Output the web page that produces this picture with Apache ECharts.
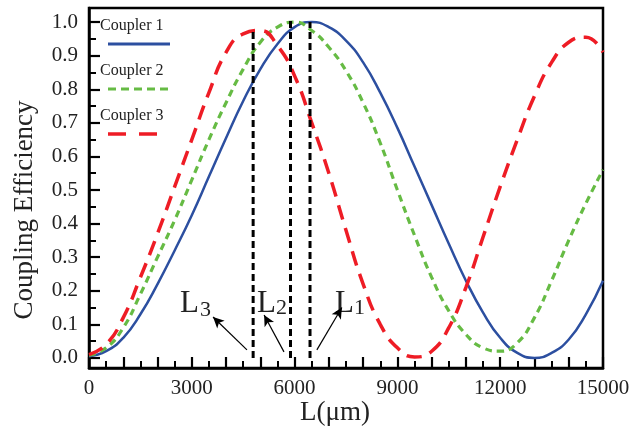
<!DOCTYPE html>
<html>
<head>
<meta charset="utf-8">
<script src="https://cdn.jsdelivr.net/npm/echarts@6/dist/echarts.min.js"></script>
<style>
  html, body { margin: 0; padding: 0; background: #fff; }
  #chart { width: 643px; height: 427px; }
</style>
</head>
<body>
<div id="chart"></div>
<script>
// L (µm) sample positions
const lengths = [0, 500, 1000, 1500, 2000, 2500, 3000, 3500, 4000, 4500, 5000, 5500, 6000, 6500, 7000, 7500,
    8000, 8500, 9000, 9500, 10000, 10500, 11000, 11500, 12000, 12500, 13000, 13500, 14000, 14500, 15000];

// coupling efficiency
const coupler1 = [0.005, 0.02, 0.06, 0.13, 0.22, 0.32, 0.425, 0.54, 0.655, 0.765, 0.86, 0.935, 0.985, 1.0, 0.985, 0.945,
    0.88, 0.79, 0.685, 0.57, 0.455, 0.34, 0.23, 0.135, 0.06, 0.015, 0.0, 0.015, 0.055, 0.13, 0.23];
const coupler2 = [0.008, 0.03, 0.09, 0.19, 0.30, 0.41, 0.53, 0.65, 0.76, 0.86, 0.94, 0.985, 1.0, 0.975, 0.925, 0.855,
    0.76, 0.64, 0.50, 0.365, 0.24, 0.14, 0.07, 0.03, 0.02, 0.045, 0.12, 0.23, 0.35, 0.46, 0.56];
const coupler3 = [0.01, 0.04, 0.12, 0.24, 0.37, 0.51, 0.65, 0.79, 0.91, 0.965, 0.975, 0.93, 0.84, 0.70, 0.55, 0.38,
    0.22, 0.10, 0.03, 0.003, 0.02, 0.09, 0.21, 0.36, 0.51, 0.65, 0.78, 0.88, 0.94, 0.955, 0.91];

// coupling lengths L1, L2, L3 and their peak heights
const peakNames = ['L1', 'L2', 'L3'];
const peakL = [6450, 5880, 4790];
const peakV = [1.0, 1.005, 0.98];

// arrows: [fromL, fromV, toL, toV]
const arrows = [
    [6650, 0.024, 7380, 0.15],
    [5690, 0.018, 5110, 0.128],
    [4610, 0.024, 3620, 0.122]
];

const xLabelStep = 3000;
const yTicks = [0, 0.1, 0.2, 0.3, 0.4, 0.5, 0.6, 0.7, 0.8, 0.9, 1.0];
const yMinor = [0.05, 0.15, 0.25, 0.35, 0.45, 0.55, 0.65, 0.75, 0.85, 0.95];

const serif = '"Liberation Serif", "DejaVu Serif", serif';
const colors = { c1: '#2c4fa0', c2: '#66bb44', c3: '#ee1c25' };

const chart = echarts.init(document.getElementById('chart'));

function pairs(ys) {
    return lengths.map((x, i) => [x, ys[i]]);
}

const series = [
    {
        name: 'Coupler 1', type: 'line', data: pairs(coupler1), smooth: true, symbol: 'none',
        lineStyle: { color: colors.c1, width: 2.5 }, z: 3
    },
    {
        name: 'Coupler 2', type: 'line', data: pairs(coupler2), smooth: true, symbol: 'none',
        lineStyle: { color: colors.c2, width: 3.2, type: [7, 5] }, z: 4
    },
    {
        name: 'Coupler 3', type: 'line', data: pairs(coupler3), smooth: true, symbol: 'none',
        lineStyle: { color: colors.c3, width: 3.5, type: [15, 9] }, z: 5
    }
];

peakL.forEach((l, i) => {
    series.push({
        name: peakNames[i], type: 'line', symbol: 'none', z: 6,
        data: [[l, 0], [l, peakV[i]]],
        lineStyle: { color: '#000', width: 3, type: [7, 4] }
    });
});

series.push({
    type: 'line', data: [], symbol: 'none',
    markLine: {
        silent: true,
        symbol: ['none', 'arrow'],
        symbolSize: [8, 11],
        label: { show: false },
        lineStyle: { color: '#000', width: 1.2, type: 'solid' },
        data: arrows.map(a => [{ coord: [a[0], a[1]] }, { coord: [a[2], a[3]] }])
    }
});

// legend drawn as text with its line sample underneath
const legendItems = [
    { text: 'Coupler 1', y: 28, color: colors.c1, dash: null, w: 2.8, x2: 170 },
    { text: 'Coupler 2', y: 73, color: colors.c2, dash: [8, 5], w: 3.2, x2: 170 },
    { text: 'Coupler 3', y: 118, color: colors.c3, dash: [18, 13], w: 3.5, x2: 160 }
];
const graphic = [];
legendItems.forEach(it => {
    graphic.push({
        type: 'text', left: 100, top: it.y - 10,
        style: { text: it.text, font: '16px ' + serif, fill: '#222' }
    });
    graphic.push({
        type: 'line',
        shape: { x1: 108, y1: it.y + 16, x2: it.x2, y2: it.y + 16 },
        style: { stroke: it.color, lineWidth: it.w, lineDash: it.dash }
    });
});

// L1 / L2 / L3 labels
const labelPos = [
    { x: 335, sx: 354, sub: '1' },
    { x: 257, sx: 276, sub: '2' },
    { x: 180, sx: 200, sub: '3', dy: 2 }
];
labelPos.forEach(p => {
    graphic.push({
        type: 'text', x: p.x, y: 319,
        style: { text: 'L', font: '31px ' + serif, fill: '#222', verticalAlign: 'bottom' }
    });
    graphic.push({
        type: 'text', x: p.sx, y: 319 + (p.dy || 0),
        style: { text: p.sub, font: '22px ' + serif, fill: '#222', verticalAlign: 'bottom' }
    });
});

// axis titles
graphic.push({
    type: 'text', x: 25, y: 210, rotation: Math.PI / 2,
    style: { text: 'Coupling Efficiency', font: '27px ' + serif, fill: '#222', align: 'center', verticalAlign: 'middle' }
});
graphic.push({
    type: 'text', x: 335, y: 413,
    style: { text: 'L(\u03bcm)', font: '27px ' + serif, fill: '#222', align: 'center', verticalAlign: 'middle' }
});

const option = {
    backgroundColor: '#fff',
    animation: false,
    grid: {
        left: 89, right: 40, top: 8, bottom: 59,
        show: true, borderColor: '#000', borderWidth: 2.5
    },
    xAxis: {
        type: 'value', min: 0, max: 15000, interval: 1000,
        axisLine: { onZero: false, lineStyle: { color: '#000', width: 2.5 } },
        axisTick: { show: true, inside: true, length: 11, lineStyle: { color: '#000', width: 2.2 } },
        minorTick: { show: true, splitNumber: 2, length: 7, lineStyle: { color: '#000', width: 2 } },
        axisLabel: {
            margin: 10, showMinLabel: true, showMaxLabel: true,
            fontFamily: serif, fontSize: 21, color: '#222',
            formatter: v => (v % xLabelStep === 0 ? String(v) : '')
        },
        splitLine: { show: false }
    },
    yAxis: [
        {
            type: 'value', min: -0.03, max: 1.042,
            axisLine: { onZero: false, lineStyle: { color: '#000', width: 2.5 } },
            axisTick: { inside: true, length: 11, customValues: yTicks, lineStyle: { color: '#000', width: 2.2 } },
            axisLabel: {
                customValues: yTicks, margin: 11,
                fontFamily: serif, fontSize: 21, color: '#222',
                formatter: v => v.toFixed(1)
            },
            splitLine: { show: false }
        },
        {
            type: 'value', min: -0.03, max: 1.042, position: 'left', offset: 0,
            axisLine: { show: false, onZero: false },
            axisTick: { show: true, inside: true, length: 7, customValues: yMinor, lineStyle: { color: '#000', width: 2 } },
            axisLabel: { show: false },
            splitLine: { show: false }
        }
    ],
    series: series,
    graphic: graphic
};

chart.setOption(option);
</script>
</body>
</html>
